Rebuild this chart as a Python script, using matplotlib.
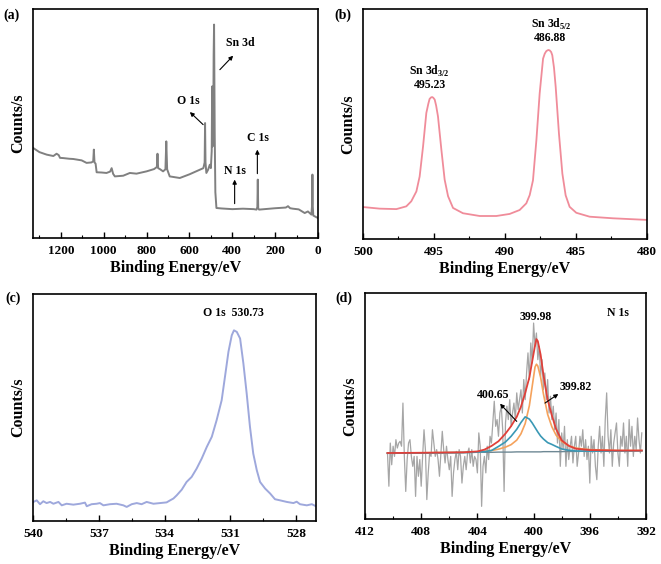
import numpy as np
import matplotlib
matplotlib.use("Agg")
import matplotlib.pyplot as plt
from matplotlib.ticker import MultipleLocator

plt.rcParams['font.family'] = ['Liberation Serif', 'DejaVu Serif']
plt.rcParams['font.weight'] = 'bold'
plt.rcParams['mathtext.fontset'] = 'custom'
plt.rcParams['mathtext.rm'] = 'Liberation Serif:bold'
plt.rcParams['mathtext.bf'] = 'Liberation Serif:bold'

# ---- (a) survey spectrum
survey_be = [1329, 1300, 1266, 1235, 1220, 1210, 1204, 1189, 1160, 1142, 1103, 1080,
             1057, 1049, 1046, 1043, 1038, 1033, 1010, 987, 970, 963, 956, 948, 909,
             878, 847, 800, 765, 752, 749, 746, 738, 723, 712, 708, 704, 692, 645, 600,
             552, 535, 529, 527, 525, 521, 513, 505, 500, 496, 494, 492, 489, 487, 485,
             482, 479, 474, 450, 400, 350, 300, 287, 283, 281, 279, 275, 200, 150, 140,
             130, 117, 90, 62, 47, 31, 27, 26, 25, 22, 10, 0]
survey_cps = [39.3, 37.5, 36.4, 35.8, 36.8, 36.2, 35.0, 34.9, 34.6, 34.5, 33.9, 32.8,
              33.0, 33.5, 38.6, 33.0, 32.5, 28.7, 28.6, 28.4, 29.0, 30.5, 28.0, 26.9, 27.2,
              28.4, 28.1, 29.1, 30.1, 31.0, 36.8, 30.5, 30.1, 29.1, 30.0, 42.2, 30.0, 26.9,
              26.2, 27.8, 29.8, 30.5, 33.0, 50.2, 33.0, 28.4, 29.8, 32.0, 30.5, 38.0, 66.2,
              40.0, 45.0, 80.0, 93.2, 45.0, 20.0, 13.1, 12.9, 12.6, 12.8, 12.6, 12.4, 13.5,
              25.5, 13.0, 12.4, 13.0, 13.3, 13.9, 13.0, 12.8, 12.5, 10.9, 11.6, 10.2, 15.0,
              27.7, 15.0, 9.8, 9.2, 8.7]

# ---- (b) Sn 3d
sn_be = [500.00, 498.83, 497.65, 496.95, 496.60, 496.24, 496.01, 495.77, 495.54, 495.40,
         495.31, 495.20, 495.12, 495.05, 494.95, 494.85, 494.72, 494.48, 494.25, 494.01,
         493.66, 492.96, 491.78, 490.61, 489.67, 488.97, 488.50, 488.26, 488.03, 487.79,
         487.56, 487.32, 487.20, 487.09, 486.95, 486.85, 486.75, 486.67, 486.55, 486.43,
         486.20, 485.96, 485.73, 485.45, 484.98, 484.04, 482.39, 480.00]
sn_cps = [13.9, 13.2, 13.0, 14.2, 16.4, 20.7, 27.2, 40.3, 54.8, 58.8, 60.9, 61.6, 61.7,
          61.4, 60.6, 58.0, 53.3, 38.8, 25.8, 18.6, 13.5, 11.2, 10.0, 10.0, 10.9, 12.6,
          15.5, 19.1, 25.5, 42.9, 63.2, 78.4, 80.6, 81.7, 82.2, 82.0, 81.3, 79.9, 74.5,
          66.1, 45.8, 28.4, 19.0, 14.0, 11.4, 9.7, 9.0, 8.3]

# ---- (c) O 1s
o_be = [539.98, 539.83, 539.68, 539.53, 539.38, 539.22, 539.07, 538.84, 538.69, 538.47,
        538.16, 537.86, 537.63, 537.55, 537.33, 537.10, 536.95, 536.79, 536.49, 536.19,
        535.88, 535.73, 535.50, 535.27, 535.05, 534.82, 534.51, 534.21, 533.91, 533.75,
        533.60, 533.45, 533.22, 533.00, 532.77, 532.54, 532.31, 532.08, 531.85, 531.63,
        531.40, 531.25, 531.09, 530.94, 530.84, 530.71, 530.56, 530.41, 530.26, 530.11,
        529.96, 529.80, 529.65, 529.42, 529.19, 528.97, 528.74, 528.43, 528.13, 527.98,
        527.83, 527.52, 527.29, 527.10]
o_cps = [8.4, 9.1, 7.4, 8.7, 7.9, 8.4, 7.6, 8.4, 6.9, 7.6, 7.2, 7.6, 8.1, 6.5, 7.4, 7.6,
         7.9, 6.9, 7.4, 7.6, 6.9, 6.2, 7.4, 7.9, 7.4, 8.4, 7.6, 7.9, 8.2, 9.1, 9.9, 11.3,
         13.8, 17.2, 19.4, 23.1, 27.5, 32.6, 37.1, 44.4, 53.2, 63.5, 74.6, 81.8, 84.0, 83.3,
         80.4, 69.4, 56.2, 41.5, 29.7, 22.4, 17.2, 14.3, 12.1, 9.6, 9.1, 8.4, 7.9, 8.5, 7.4,
         6.9, 7.4, 6.5]

# ---- (d) N 1s raw data (410.4 -> 392.3 eV, constant step)
n_cps = [29.2, 14.5, 33.6, 24.0, 32.2, 27.7, 35.1, 31.4, 33.6, 34.4, 32.2, 51.3, 27.7,
         12.2, 26.3, 33.6, 35.1, 27.7, 23.3, 27.7, 10.0, 27.7, 18.9, 26.3, 14.5, 27.7,
         39.5, 30.7, 8.6, 20.4, 29.2, 27.7, 39.5, 33.6, 27.7, 30.7, 26.3, 18.9, 28.5,
         38.8, 30.7, 24.8, 32.2, 26.3, 21.8, 27.7, 10.0, 20.4, 26.3, 29.9, 21.8, 30.7,
         27.7, 15.9, 23.3, 27.7, 21.8, 29.2, 31.4, 24.8, 30.7, 23.3, 27.7, 26.3, 20.4,
         38.1, 32.2,
         5.6, 23.3, 27.7, 20.4, 32.2, 26.3, 36.6, 33.6, 42.5, 52.1, 41.0, 44.0, 36.6,
         46.9, 49.9, 39.5, 12.2, 42.5, 49.9, 44.0, 52.8, 41.0, 46.9, 51.3, 44.0, 55.8,
         48.4, 52.8, 57.2, 46.9, 61.7, 52.8, 64.6, 73.5, 61.7, 77.9, 69.0, 86.7, 76.4,
         82.3, 70.5, 76.4, 63.1, 70.5, 57.2, 64.6, 52.8, 61.7, 46.9, 54.3, 44.0, 49.9,
         39.5, 46.9, 33.6, 44.0, 23.3, 38.1, 30.7, 41.0, 23.3, 35.1, 26.3, 32.2, 36.6,
         24.8, 32.2, 36.6, 23.3, 29.2, 36.6, 32.2, 39.5, 27.7, 35.1, 26.3, 32.2, 15.9,
         36.6, 29.2, 35.1, 23.3, 17.4, 32.2, 41.0, 29.2, 36.6, 23.3, 44.0, 55.8, 36.6,
         29.2, 39.5, 23.3, 33.6, 38.1, 42.5, 29.2, 23.3, 36.6, 32.2, 42.5, 29.2, 36.6,
         23.3, 44.0, 32.2, 41.0, 27.7, 36.6, 30.7, 44.7, 35.1, 29.2, 38.1]
n_be = np.linspace(410.4, 392.3, len(n_cps))

# fitted components (values above the linear background)
fit_be = [410.4, 408, 405, 404, 403.5, 403, 402.5, 402, 401.6, 401.2, 400.9, 400.6,
          400.3, 400.1, 399.9, 399.8, 399.7, 399.5, 399.3, 399.0, 398.7, 398.4, 398.0,
          397.5, 397, 396, 394, 392.3]
fit_bg = [29.1, 29.2, 29.4, 29.5, 29.5, 29.5, 29.6, 29.6, 29.6, 29.7, 29.7, 29.7,
          29.7, 29.7, 29.7, 29.7, 29.7, 29.7, 29.8, 29.8, 29.8, 29.8, 29.8, 29.9,
          29.9, 30.0, 30.1, 30.2]
fit_blue = [0, 0, 0, 0.1, 0.3, 0.8, 2.5, 4.5, 7.0, 10.0, 13.0, 15.5, 14.5, 12.8, 10.8,
            9.8, 8.8, 7.0, 5.6, 4.0, 3.2, 2.3, 1.2, 0.5, 0.2, 0, 0, 0]
fit_orange = [0.1, 0.1, 0.1, 0.2, 0.5, 0.8, 1.3, 2.2, 3.3, 5.2, 8.0, 12.5, 20.5, 29.0,
              37.5, 38.8, 38.0, 33.0, 25.5, 16.5, 11.0, 7.3, 4.5, 2.5, 1.5, 0.7, 0.2, 0.1]
fit_red = [0.1, 0.1, 0.1, 0.4, 1.2, 2.8, 4.8, 8.2, 11.5, 15.5, 20.0, 26.0, 33.0, 40.0,
           47.0, 49.9, 49.0, 43.0, 34.0, 23.0, 16.0, 10.0, 5.0, 2.5, 1.2, 0.5, 0.2, 0.1]

W, H = 661, 564
fig = plt.figure(figsize=(W / 100, H / 100), dpi=100)


def px_axes(l, t, r, b):
    return fig.add_axes([l / W, 1 - b / H, (r - l) / W, (b - t) / H])


def style(ax, xlim, major, minor):
    ax.set_xlim(*xlim)
    ax.set_ylim(0, 100)
    ax.xaxis.set_major_locator(MultipleLocator(major))
    ax.xaxis.set_minor_locator(MultipleLocator(minor))
    ax.tick_params(axis='x', which='major', direction='in', length=4, width=1,
                   labelsize=9.5, pad=5)
    ax.tick_params(axis='x', which='minor', direction='in', length=2, width=0.8)
    ax.set_yticks([])
    for s in ax.spines.values():
        s.set_linewidth(1.2)
    ax.set_xlabel('Binding Energy/eV', fontsize=11.5, fontweight='bold', labelpad=2)
    ax.set_ylabel('Counts/s', fontsize=11.5, fontweight='bold', labelpad=5)
    for lab in ax.get_xticklabels():
        lab.set_fontweight('bold')


arrow = dict(arrowstyle='-|>', lw=0.8, color='black', mutation_scale=6,
             shrinkA=0, shrinkB=0)
tfs = 8.5

# (a)
ax_a = px_axes(33, 9, 318, 238)
ax_a.plot(survey_be, survey_cps, color='#808080', lw=1.4)
style(ax_a, (1330, 0), 200, 100)
ax_a.text(362, 85.2, 'Sn 3d', fontsize=tfs, ha='center', va='center')
ax_a.annotate('', xy=(396, 79.6), xytext=(458, 73.5), arrowprops=arrow)
ax_a.text(606, 59.7, 'O 1s', fontsize=tfs, ha='center', va='center')
ax_a.annotate('', xy=(598, 55.0), xytext=(536, 49.5), arrowprops=arrow)
ax_a.text(387, 29.1, 'N 1s', fontsize=tfs, ha='center', va='center')
ax_a.annotate('', xy=(389, 25.5), xytext=(389, 15.0), arrowprops=arrow)
ax_a.text(280, 43.7, 'C 1s', fontsize=tfs, ha='center', va='center')
ax_a.annotate('', xy=(283, 38.6), xytext=(283, 28.1), arrowprops=arrow)

# (b)
ax_b = px_axes(363, 9, 647, 239)
ax_b.plot(sn_be, sn_cps, color='#f08c9a', lw=1.3)
style(ax_b, (500, 480), 5, 2.5)
ax_b.text(495.3, 72.9, 'Sn 3d$_{3/2}$', fontsize=tfs, ha='center', va='center')
ax_b.text(495.3, 67.1, '495.23', fontsize=tfs, ha='center', va='center')
ax_b.text(486.74, 93.2, 'Sn 3d$_{5/2}$', fontsize=tfs, ha='center', va='center')
ax_b.text(486.85, 87.4, '486.88', fontsize=tfs, ha='center', va='center')

# (c)
ax_c = px_axes(33, 294, 316, 521)
ax_c.plot(o_be, o_cps, color='#9ea8dc', lw=1.4)
style(ax_c, (540, 527.1), 3, 1.5)
ax_c.text(530.87, 91.5, 'O 1s  530.73', fontsize=tfs, ha='center', va='center')

# (d)
ax_d = px_axes(365, 293, 646, 519)
ax_d.plot(n_be, n_cps, color='#a6a6a6', lw=0.9)
bg = np.array(fit_bg)
ax_d.plot(fit_be, bg, color='#6e8894', lw=1.0)
ax_d.plot(fit_be, bg + np.array(fit_orange), color='#f5a25c', lw=1.2)
ax_d.plot(fit_be, bg + np.array(fit_blue), color='#3a98b5', lw=1.2)
ax_d.plot(fit_be, bg + np.array(fit_red), color='#e0403a', lw=1.3)
style(ax_d, (412, 392), 4, 2)
ax_d.text(399.83, 89.2, '399.98', fontsize=tfs, ha='center', va='center')
ax_d.text(402.87, 55.0, '400.65', fontsize=tfs, ha='center', va='center')
ax_d.annotate('', xy=(402.39, 51.0), xytext=(401.2, 43.2), arrowprops=arrow)
ax_d.text(396.98, 58.3, '399.82', fontsize=tfs, ha='center', va='center')
ax_d.annotate('', xy=(398.24, 55.3), xytext=(399.19, 51.3), arrowprops=arrow)
ax_d.text(393.97, 91.2, 'N 1s', fontsize=tfs, ha='center', va='center')

# panel letters
for lab, x, y in [('(a)', 11, 15), ('(b)', 343, 15), ('(c)', 13, 298), ('(d)', 344, 298)]:
    fig.text(x / W, 1 - y / H, lab, fontsize=10, fontweight='bold',
             ha='center', va='center')

fig.savefig('out.png', dpi=100)
